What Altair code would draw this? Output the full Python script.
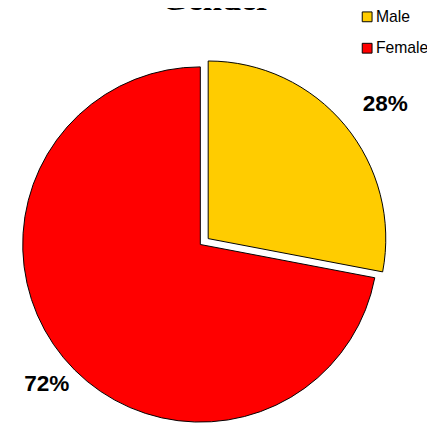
import altair as alt
import pandas as pd

title_text = ["Gender"]
genders = ["Male", "Female"]
shares = [28, 72]
labels = ["28%", "72%"]
order = [0, 1]
colors = ["#FFCC00", "#FF0000"]

df = pd.DataFrame({"gender": genders, "share": shares, "label": labels, "order": order})
tdf = pd.DataFrame({"t": title_text})

CX, CY, R = 196, 237, 181
DX, DY = 8, -6
LR = 216

color = alt.Color(
    "gender:N",
    scale=alt.Scale(domain=genders, range=colors),
    legend=alt.Legend(
        orient="none", legendX=358, legendY=-3, title=None,
        symbolType="square", symbolSize=100,
        symbolStrokeColor="black", symbolStrokeWidth=1,
        labelFont="Liberation Sans", labelFontSize=16, labelColor="black",
        rowPadding=16, labelOffset=1, padding=0,
    ),
)

base = alt.Chart(df).encode(
    theta=alt.Theta("share:Q", stack=True),
    order=alt.Order("order:Q"),
)

is_f = alt.datum.gender == "Female"
is_m = alt.datum.gender == "Male"

female_arc = base.mark_arc(radius=R, stroke="black", strokeWidth=1, x=CX, y=CY).encode(
    color=color, opacity=alt.condition(is_f, alt.value(1), alt.value(0))
)
male_arc = base.mark_arc(radius=R, stroke="black", strokeWidth=1, x=CX + DX, y=CY + DY).encode(
    color=color, opacity=alt.condition(is_m, alt.value(1), alt.value(0))
)
female_txt = base.mark_text(radius=LR, x=CX, y=CY, dx=10, dy=5, font="Liberation Sans", fontSize=23,
                            fontWeight="bold", color="black").encode(
    text="label:N", opacity=alt.condition(is_f, alt.value(1), alt.value(0))
)
male_txt = base.mark_text(radius=LR, x=CX + DX, y=CY + DY, dx=14, dy=1, font="Liberation Sans", fontSize=23,
                          fontWeight="bold", color="black").encode(
    text="label:N", opacity=alt.condition(is_m, alt.value(1), alt.value(0))
)
title = alt.Chart(tdf).mark_text(x=212, y=-2, baseline="alphabetic", font="Liberation Serif",
                                 fontSize=35, fontWeight="bold", color="black").encode(text="t:N")

chart = alt.layer(female_arc, male_arc, female_txt, male_txt, title).properties(
    width=427, height=419, autosize=alt.AutoSizeParams(type="none"), padding=0
).configure_view(stroke=None)

chart.save("out.html", embed_options={"renderer": "svg", "actions": False})
